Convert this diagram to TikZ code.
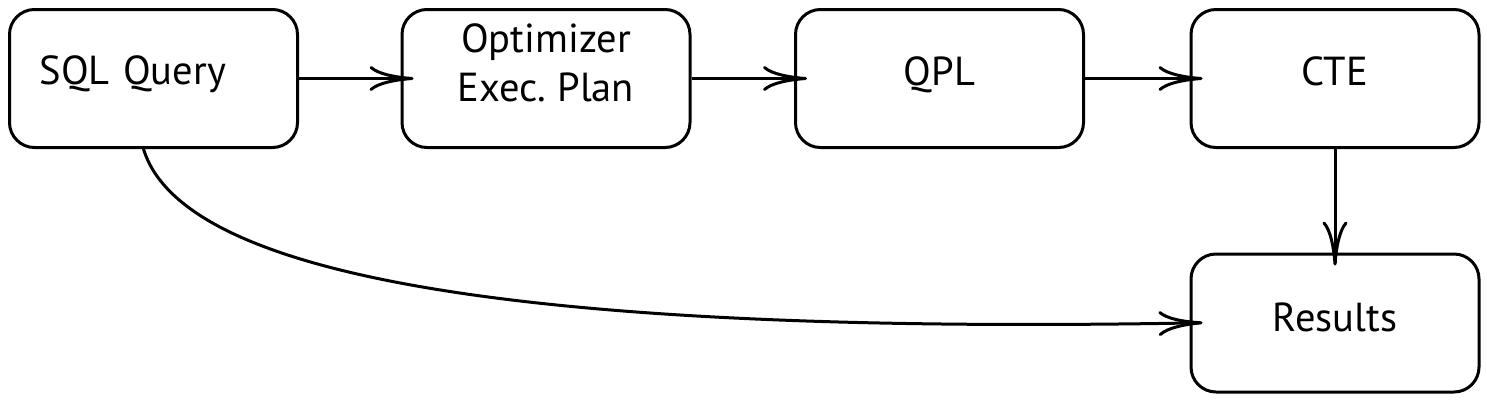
\documentclass[tikz,border=0pt]{standalone}
\usepackage{fontspec}
\setmainfont{PT Sans}
\usetikzlibrary{arrows.meta,calc}
\newcommand{\bxt}[2]{\raisebox{#1}[0pt][0pt]{#2}}
\tikzset{
  box/.style={draw=black, line width=3pt, rounded corners=25pt, minimum width=288pt, minimum height=138pt, inner sep=0pt, align=center, font=\fontsize{40.5}{49}\selectfont},
  conn/.style={draw=black, line width=3pt, -{Computer Modern Rightarrow[length=44pt,width=25pt,line width=3pt]}, shorten >=-13pt}
}
\begin{document}
\begin{tikzpicture}[x=1pt,y=-1pt]
\useasboundingbox (0,0) rectangle (1487,400);
\node[box, text width=228pt, align=left] (sql) at (153.5,78.5) {\bxt{-6pt}{SQL Query}};
\node[box] (opt) at (546,78.5) {\bxt{-22.5pt}{\begin{tabular}[b]{@{}c@{}}Optimizer\\Exec.~Plan\end{tabular}}};
\node[box] (qpl) at (939.5,78.5) {\bxt{-6.5pt}{QPL}};
\node[box] (cte) at (1335,78.5) {\bxt{-6.5pt}{CTE}};
\node[box] (res) at (1335,323) {\bxt{-8pt}{Results}};
\coordinate (s0) at ([xshift=-10pt]sql.south);
\draw[conn] (sql.east) -- (opt.west);
\draw[conn] (opt.east) -- (qpl.west);
\draw[conn] (qpl.east) -- (cte.west);
\draw[conn] (cte.south) -- (res.north);
\draw[conn] (s0) .. controls ($(s0)+(37,121)$) and ($(res.west)+(-703,13)$) .. (res.west);
\end{tikzpicture}
\end{document}
